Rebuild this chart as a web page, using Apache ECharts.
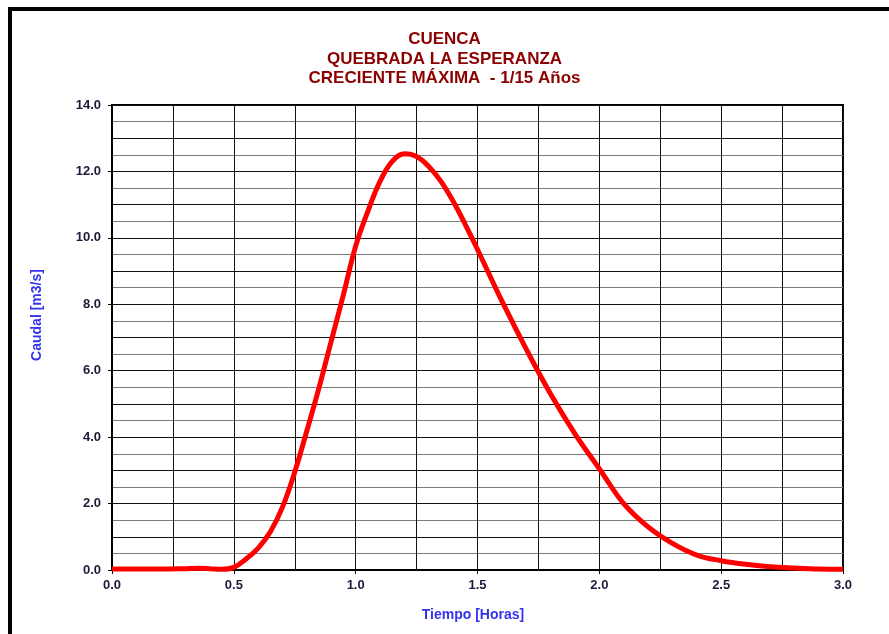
<!DOCTYPE html>
<html>
<head>
<meta charset="utf-8">
<script src="https://cdn.jsdelivr.net/npm/echarts@6/dist/echarts.min.js"></script>
<style>
html,body{margin:0;padding:0;background:#fff;}
#chart{width:889px;height:634px;}
</style>
</head>
<body>
<div id="chart"></div>
<script>
const titleLines = ["CUENCA", "QUEBRADA LA ESPERANZA", "CRECIENTE MÁXIMA  - 1/15 Años"];
const xAxisTitle = "Tiempo [Horas]";
const yAxisTitle = "Caudal [m3/s]";
const tiempo = [0, 0.1, 0.2, 0.3, 0.35, 0.4, 0.45, 0.5, 0.55, 0.6, 0.65, 0.7, 0.75, 0.8, 0.85, 0.9, 0.95, 1.0, 1.05, 1.1, 1.15, 1.2, 1.25, 1.3, 1.35, 1.4, 1.45, 1.5, 1.6, 1.7, 1.8, 1.9, 2.0, 2.1, 2.2, 2.3, 2.4, 2.5, 2.6, 2.7, 2.8, 2.9, 3.0];
const caudal = [0.03, 0.03, 0.03, 0.04, 0.05, 0.04, 0.02, 0.08, 0.33, 0.66, 1.15, 1.9, 2.95, 4.2, 5.5, 6.9, 8.3, 9.75, 10.8, 11.7, 12.3, 12.53, 12.45, 12.15, 11.7, 11.1, 10.4, 9.65, 8.1, 6.65, 5.3, 4.1, 3.05, 2.0, 1.3, 0.8, 0.45, 0.28, 0.17, 0.1, 0.06, 0.03, 0.02];

const chart = echarts.init(document.getElementById('chart'), null, {renderer: 'canvas'});
const data = tiempo.map((t, i) => [t, caudal[i]]);
const labelStyle = {color: '#1a1a3a', fontFamily: '"Liberation Sans", Arial, sans-serif', fontWeight: 'bold', fontSize: 13};

chart.setOption({
  animation: false,
  backgroundColor: '#fff',
  title: {
    text: titleLines.join('\n'),
    left: 'center',
    top: 25,
    textStyle: {color: '#8B0000', fontFamily: '"Liberation Sans", Arial, sans-serif', fontWeight: 'bold', fontSize: 17, lineHeight: 19.5}
  },
  grid: {left: 112, top: 105, right: 46, bottom: 64, show: true, borderColor: '#000', borderWidth: 2, backgroundColor: 'transparent'},
  xAxis: {
    type: 'value', min: 0, max: 3, interval: 0.5,
    axisLine: {show: true, onZero: false, lineStyle: {color: '#000', width: 2}},
    axisTick: {show: true, length: 4, lineStyle: {color: '#000', width: 1}},
    axisLabel: Object.assign({margin: 9, formatter: v => v.toFixed(1)}, labelStyle),
    splitLine: {show: true, lineStyle: {color: '#111', width: 1}},
    minorTick: {show: false, splitNumber: 2},
    minorSplitLine: {show: true, lineStyle: {color: '#111', width: 1}}
  },
  yAxis: [{
    type: 'value', min: 0, max: 14, interval: 2,
    axisLine: {show: true, onZero: false, lineStyle: {color: '#000', width: 2}},
    axisTick: {show: true, length: 4, lineStyle: {color: '#000', width: 1}},
    axisLabel: Object.assign({margin: 11, formatter: v => v.toFixed(1)}, labelStyle),
    splitLine: {show: false}
  }, {
    type: 'value', min: 0, max: 14, interval: 1, position: 'left',
    axisLine: {show: false}, axisTick: {show: false}, axisLabel: {show: false},
    splitLine: {show: true, lineStyle: {color: '#111', width: 1}},
    minorTick: {show: false, splitNumber: 2},
    minorSplitLine: {show: true, lineStyle: {color: '#7a7a7a', width: 1.2}}
  }],
  series: [{
    type: 'line',
    data: data,
    yAxisIndex: 0,
    smooth: 0.4,
    symbol: 'none',
    clip: false,
    lineStyle: {color: '#FF0000', width: 5},
    z: 5
  }],
  graphic: [
    {type: 'rect', shape: {x: 10, y: 9, width: 960, height: 700}, style: {fill: 'none', stroke: '#000', lineWidth: 4}, silent: true},
    {type: 'text', x: 37, y: 315, rotation: Math.PI / 2,
     style: {text: yAxisTitle, fill: '#3333EE', font: 'bold 14px "Liberation Sans", Arial, sans-serif', textAlign: 'center', textVerticalAlign: 'middle'}},
    {type: 'text', x: 473, y: 615,
     style: {text: xAxisTitle, fill: '#3333EE', font: 'bold 14px "Liberation Sans", Arial, sans-serif', textAlign: 'center', textVerticalAlign: 'middle'}}
  ]
});
</script>
</body>
</html>
